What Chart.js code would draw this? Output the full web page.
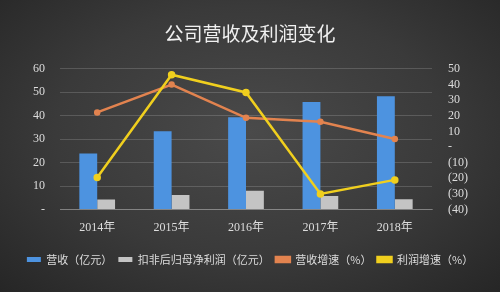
<!DOCTYPE html>
<html>
<head>
<meta charset="utf-8">
<script src="https://cdn.jsdelivr.net/npm/chart.js@4/dist/chart.umd.min.js"></script>
<style>
  html, body { margin: 0; padding: 0; }
  body {
    width: 500px; height: 292px; overflow: hidden;
    background: radial-gradient(ellipse at 50% 45%, #4a4a4a 0%, #3a3a3a 55%, #262626 100%);
  }
  #wrap { width: 500px; height: 292px; }
</style>
</head>
<body>
<div id="wrap"><canvas id="chart"></canvas></div>
<script>
// 数据
const years = ['2014年', '2015年', '2016年', '2017年', '2018年'];
const revenue = [23.9, 33.4, 39.4, 45.9, 48.3];       // 营收（亿元）
const netProfit = [4.3, 6.2, 8.0, 5.8, 4.4];           // 扣非后归母净利润（亿元）
const revenueGrowth = [22.1, 39.9, 18.7, 16.2, 5.1];   // 营收增速（%）
const profitGrowth = [-19.5, 46.2, 34.9, -30.0, -21.0]; // 利润增速（%）

const cjk = '"Noto Sans CJK SC", "Noto Sans", sans-serif';
const serif = '"Liberation Serif", "Noto Sans CJK SC", serif';

new Chart(document.getElementById('chart'), {
    data: {
        labels: years,
        datasets: [
            {
                type: 'bar',
                label: '营收（亿元）',
                data: revenue,
                backgroundColor: '#4d93e0',
                yAxisID: 'y',
                order: 2,
                categoryPercentage: 0.48,
                barPercentage: 1.0
            },
            {
                type: 'bar',
                label: '扣非后归母净利润（亿元）',
                data: netProfit,
                backgroundColor: '#c4c4c4',
                yAxisID: 'y',
                order: 2,
                categoryPercentage: 0.48,
                barPercentage: 1.0
            },
            {
                type: 'line',
                label: '营收增速（%）',
                data: revenueGrowth,
                borderColor: '#e2834f',
                backgroundColor: '#e2834f',
                borderWidth: 2.5,
                pointRadius: 2,
                tension: 0,
                yAxisID: 'y1',
                order: 1
            },
            {
                type: 'line',
                label: '利润增速（%）',
                data: profitGrowth,
                borderColor: '#f0cf1e',
                backgroundColor: '#f0cf1e',
                borderWidth: 2.5,
                pointRadius: 2.5,
                tension: 0,
                yAxisID: 'y1',
                order: 0
            }
        ]
    },
    options: {
        responsive: true,
        maintainAspectRatio: false,
        animation: false,
        layout: { padding: { left: 0, right: 0, top: 0, bottom: 17 } },
        plugins: {
            title: {
                display: true,
                text: '公司营收及利润变化',
                color: '#f0f0f0',
                font: { family: cjk, size: 19, weight: 'normal' },
                padding: { top: 22, bottom: 24 }
            },
            legend: {
                position: 'bottom',
                labels: {
                    color: '#dddddd',
                    font: { family: cjk, size: 11 },
                    boxWidth: 14,
                    boxHeight: 5,
                    padding: 6,
                    sort: (a, b) => a.datasetIndex - b.datasetIndex
                }
            },
            tooltip: { enabled: false }
        },
        scales: {
            x: {
                grid: { display: false, drawTicks: false },
                border: { color: 'rgba(255,255,255,0.25)' },
                ticks: {
                    color: '#dddddd',
                    font: { family: serif, size: 12 },
                    padding: 11
                },
                afterFit: axis => { axis.height += 2; }
            },
            y: {
                position: 'left',
                min: 0,
                max: 60,
                ticks: {
                    stepSize: 10,
                    autoSkip: false,
                    color: '#dddddd',
                    font: { family: serif, size: 12 },
                    padding: 15,
                    callback: v => v === 0 ? '-' : v
                },
                grid: { color: 'rgba(255,255,255,0.16)', drawTicks: false },
                border: { display: false },
                afterFit: axis => { axis.width = 60; }
            },
            y1: {
                position: 'right',
                min: -40,
                max: 50,
                ticks: {
                    stepSize: 10,
                    autoSkip: false,
                    color: '#dddddd',
                    font: { family: serif, size: 12 },
                    padding: 16,
                    callback: v => v === 0 ? '-' : (v < 0 ? '(' + (-v) + ')' : v)
                },
                grid: { display: false, drawTicks: false },
                border: { display: false },
                afterFit: axis => { axis.width = 68; }
            }
        }
    }
});
</script>
</body>
</html>
